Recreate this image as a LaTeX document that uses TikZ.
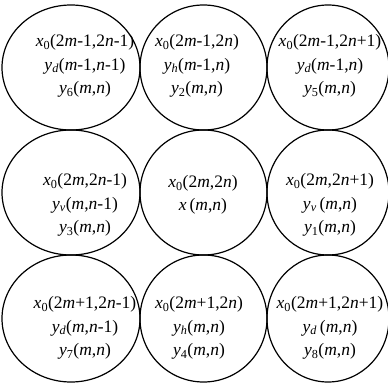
\documentclass[tikz,border=0pt]{standalone}
\usepackage{fontspec}
\setmainfont{Liberation Serif}

\newcommand{\vx}[1]{\textit{x}\textsubscript{#1}}
\newcommand{\vy}[1]{\textit{y}\textsubscript{#1}}
\newcommand{\vm}{\textit{m}}
\newcommand{\vn}{\textit{n}}

\begin{document}
\begin{tikzpicture}[x=1pt, y=-1pt, line width=1.2pt,
    lbl/.style={align=center, font=\fontsize{17.5}{23.5}\selectfont, inner sep=0pt}]
  \useasboundingbox (0,0) rectangle (388,385);

  % Cells
  \foreach \cx/\rx in {71/69, 203.5/63.5, 328/61}
    \foreach \cy/\ry in {67.5/62.5, 192.5/62.5, 318.5/63.5}
      \draw (\cx,\cy) ellipse ({\rx} and {\ry});

  % Row 1
  \node[lbl] (t11) at (85,66) {\vx{0}(2\vm-1,2\vn-1)\\ \vy{\textit{d}}(\vm-1,\vn-1)\\ \vy{6}(\vm,\vn)};
  \node[lbl] (t12) at (197,66) {\vx{0}(2\vm-1,2\vn)\\ \vy{\textit{h}}(\vm-1,\vn)\\ \vy{2}(\vm,\vn)};
  \node[lbl] (t13) at (330,66) {\vx{0}(2\vm-1,2\vn+1)\\ \vy{\textit{d}}(\vm-1,\vn)\\ \vy{5}(\vm,\vn)};

  % Row 2
  \node[lbl] (t21) at (85,205) {\vx{0}(2\vm,2\vn-1)\\ \vy{\textit{v}}(\vm,\vn-1)\\ \vy{3}(\vm,\vn)};
  \node[lbl] (t22) at (203,195) {\vx{0}(2\vm,2\vn)\\ \textit{x}\,(\vm,\vn)};
  \node[lbl] (t23) at (330,205) {\vx{0}(2\vm,2\vn+1)\\ \vy{\textit{v}}\,(\vm,\vn)\\ \vy{1}(\vm,\vn)};

  % Row 3
  \node[lbl] (t31) at (85,328) {\vx{0}(2\vm+1,2\vn-1)\\ \vy{\textit{d}}(\vm,\vn-1)\\ \vy{7}(\vm,\vn)};
  \node[lbl] (t32) at (199,328) {\vx{0}(2\vm+1,2\vn)\\ \vy{\textit{h}}(\vm,\vn)\\ \vy{4}(\vm,\vn)};
  \node[lbl] (t33) at (330,328) {\vx{0}(2\vm+1,2\vn+1)\\ \vy{\textit{d}}\,(\vm,\vn)\\ \vy{8}(\vm,\vn)};
\end{tikzpicture}
\end{document}
